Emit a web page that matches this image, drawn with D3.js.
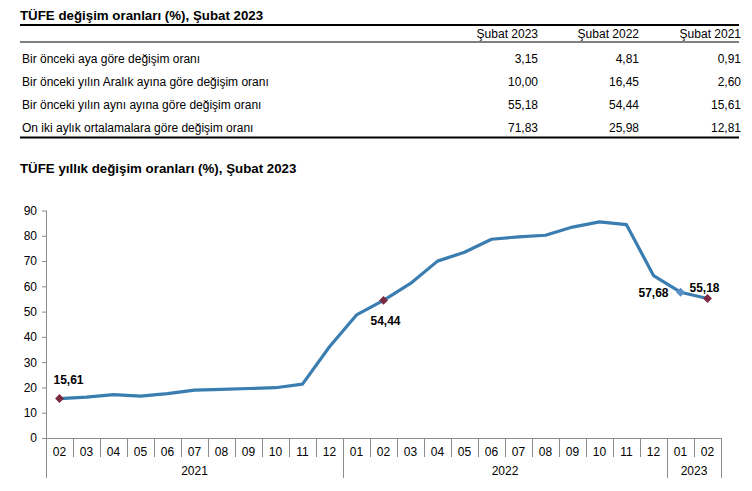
<!DOCTYPE html>
<html>
<head>
<meta charset="utf-8">
<script src="https://cdn.jsdelivr.net/npm/d3@7"></script>
<style>
  body { margin: 0; background: #fff; }
  svg { font-family: Arial, "Liberation Sans", sans-serif; }
</style>
</head>
<body>
<div id="chart"></div>
<script>
// Table data
var tableTitle = "TÜFE değişim oranları (%), Şubat 2023";
var tableColumns = ["Şubat 2023", "Şubat 2022", "Şubat 2021"];
var tableRows = [
  "Bir önceki aya göre değişim oranı",
  "Bir önceki yılın Aralık ayına göre değişim oranı",
  "Bir önceki yılın aynı ayına göre değişim oranı",
  "On iki aylık ortalamalara göre değişim oranı"
];
var tableValues = [
  ["3,15", "4,81", "0,91"],
  ["10,00", "16,45", "2,60"],
  ["55,18", "54,44", "15,61"],
  ["71,83", "25,98", "12,81"]
];

// Chart data
var chartTitle = "TÜFE yıllık değişim oranları (%), Şubat 2023";
var months = ["02", "03", "04", "05", "06", "07", "08", "09", "10", "11", "12",
  "01", "02", "03", "04", "05", "06", "07", "08", "09", "10", "11", "12",
  "01", "02"];
var years = ["2021", "2021", "2021", "2021", "2021", "2021", "2021", "2021", "2021", "2021", "2021",
  "2022", "2022", "2022", "2022", "2022", "2022", "2022", "2022", "2022", "2022", "2022", "2022",
  "2023", "2023"];
var values = [15.61, 16.19, 17.14, 16.59, 17.53, 18.95, 19.25, 19.58, 19.89, 21.31, 36.08,
  48.69, 54.44, 61.14, 69.97, 73.50, 78.62, 79.60, 80.21, 83.45, 85.51, 84.39, 64.27,
  57.68, 55.18];
var yTicks = [0, 10, 20, 30, 40, 50, 60, 70, 80, 90];
// labelled points: index, label, kind
var highlights = [
  { i: 0, label: "15,61", kind: "dark" },
  { i: 12, label: "54,44", kind: "dark" },
  { i: 23, label: "57,68", kind: "light" },
  { i: 24, label: "55,18", kind: "dark" }
];

var svgWidth = 752;
var svgHeight = 491;

var svg = d3.select("#chart")
  .append("svg")
  .attr("width", svgWidth)
  .attr("height", svgHeight);

// ---- Table ----
var tbl = svg.append("g");

tbl.append("text")
  .attr("x", 20)
  .attr("y", 20)
  .attr("font-size", 13.3)
  .attr("font-weight", "bold")
  .text(tableTitle);

tbl.append("line")
  .attr("x1", 20).attr("x2", 739)
  .attr("y1", 25).attr("y2", 25)
  .attr("stroke", "#000").attr("stroke-width", 2);

tbl.append("line")
  .attr("x1", 20).attr("x2", 739)
  .attr("y1", 42).attr("y2", 42)
  .attr("stroke", "#000").attr("stroke-width", 1);

tbl.append("line")
  .attr("x1", 20).attr("x2", 739)
  .attr("y1", 137.5).attr("y2", 137.5)
  .attr("stroke", "#000").attr("stroke-width", 2);

var colX = [538, 639, 741];

tbl.selectAll(".colHead")
  .data(tableColumns)
  .enter()
  .append("text")
  .attr("class", "colHead")
  .attr("x", (d, i) => colX[i])
  .attr("y", 38)
  .attr("text-anchor", "end")
  .attr("font-size", 12)
  .text(d => d);

var rowY = d3.scalePoint()
  .domain(d3.range(tableRows.length))
  .range([63, 132]);

tbl.selectAll(".rowLabel")
  .data(tableRows)
  .enter()
  .append("text")
  .attr("class", "rowLabel")
  .attr("x", 22)
  .attr("y", (d, i) => rowY(i))
  .attr("font-size", 12)
  .text(d => d);

tableValues.forEach(function (row, r) {
  tbl.selectAll(".val" + r)
    .data(row)
    .enter()
    .append("text")
    .attr("x", (d, i) => colX[i])
    .attr("y", rowY(r))
    .attr("text-anchor", "end")
    .attr("font-size", 12)
    .text(d => d);
});

// ---- Line chart ----
svg.append("text")
  .attr("x", 20)
  .attr("y", 173)
  .attr("font-size", 13.3)
  .attr("font-weight", "bold")
  .text(chartTitle);

var plotLeft = 46, plotRight = 721;
var plotTop = 210.5, plotBottom = 438;

var xScale = d3.scaleBand()
  .domain(d3.range(values.length))
  .range([plotLeft, plotRight]);

var yScale = d3.scaleLinear()
  .domain([0, 90])
  .range([plotBottom, plotTop]);

var axisColor = "#8c8c8c";

// y axis
var leftAxis = d3.axisLeft(yScale)
  .tickValues(yTicks)
  .tickSize(4)
  .tickPadding(5);

var yAxisG = svg.append("g")
  .attr("transform", `translate(${plotLeft}, 0)`)
  .call(leftAxis);
yAxisG.select(".domain").remove();
yAxisG.selectAll("line").attr("stroke", axisColor);
yAxisG.selectAll("text")
  .attr("font-size", 12)
  .attr("fill", "#000")
  .style("font-family", "Arial, 'Liberation Sans', sans-serif");

svg.append("line")
  .attr("x1", plotLeft + 0.5).attr("x2", plotLeft + 0.5)
  .attr("y1", plotTop).attr("y2", 478)
  .attr("stroke", axisColor);

// x axis (two-level category axis)
svg.append("line")
  .attr("x1", plotLeft).attr("x2", plotRight)
  .attr("y1", plotBottom + 0.5).attr("y2", plotBottom + 0.5)
  .attr("stroke", axisColor);

var boundaries = d3.range(1, values.length + 1);
svg.selectAll(".sep")
  .data(boundaries)
  .enter()
  .append("line")
  .attr("class", "sep")
  .attr("x1", d => Math.round(xScale(d - 1) + xScale.bandwidth()) + 0.5)
  .attr("x2", d => Math.round(xScale(d - 1) + xScale.bandwidth()) + 0.5)
  .attr("y1", plotBottom)
  .attr("y2", d => (d === values.length || years[d] !== years[d - 1]) ? 478 : 457)
  .attr("stroke", axisColor);

svg.selectAll(".month")
  .data(months)
  .enter()
  .append("text")
  .attr("class", "month")
  .attr("x", (d, i) => xScale(i) + xScale.bandwidth() / 2)
  .attr("y", 456)
  .attr("text-anchor", "middle")
  .attr("font-size", 12)
  .text(d => d);

var yearGroups = d3.groups(values.map((v, i) => ({ i: i, y: years[i] })), d => d.y);
svg.selectAll(".year")
  .data(yearGroups)
  .enter()
  .append("text")
  .attr("class", "year")
  .attr("x", d => (xScale(d[1][0].i) + xScale(d[1][d[1].length - 1].i) + xScale.bandwidth()) / 2)
  .attr("y", 475)
  .attr("text-anchor", "middle")
  .attr("font-size", 12)
  .text(d => d[0]);

// line
var line = d3.line()
  .x((d, i) => xScale(i) + xScale.bandwidth() / 2)
  .y(d => yScale(d));

svg.append("path")
  .datum(values)
  .attr("d", line)
  .attr("fill", "none")
  .attr("stroke", "#3a7db0")
  .attr("stroke-width", 3.2)
  .attr("stroke-linejoin", "round");

// markers
var diamond = d3.symbol().type(d3.symbolDiamond2).size(50);
svg.selectAll(".marker")
  .data(highlights)
  .enter()
  .append("path")
  .attr("class", "marker")
  .attr("d", diamond)
  .attr("transform", d => `translate(${xScale(d.i) + xScale.bandwidth() / 2}, ${yScale(values[d.i])})`)
  .attr("fill", d => d.kind === "dark" ? "#7b2a42" : "#5a8fc8");

// point labels
var labelOffset = {
  0: { dx: 9, dy: -15, anchor: "middle" },
  12: { dx: 2, dy: 25, anchor: "middle" },
  23: { dx: -12, dy: 5, anchor: "end" },
  24: { dx: -3, dy: -7, anchor: "middle" }
};
svg.selectAll(".plabel")
  .data(highlights)
  .enter()
  .append("text")
  .attr("class", "plabel")
  .attr("x", d => xScale(d.i) + xScale.bandwidth() / 2 + labelOffset[d.i].dx)
  .attr("y", d => yScale(values[d.i]) + labelOffset[d.i].dy)
  .attr("text-anchor", d => labelOffset[d.i].anchor)
  .attr("font-size", 12)
  .attr("font-weight", "bold")
  .text(d => d.label);
</script>
</body>
</html>
